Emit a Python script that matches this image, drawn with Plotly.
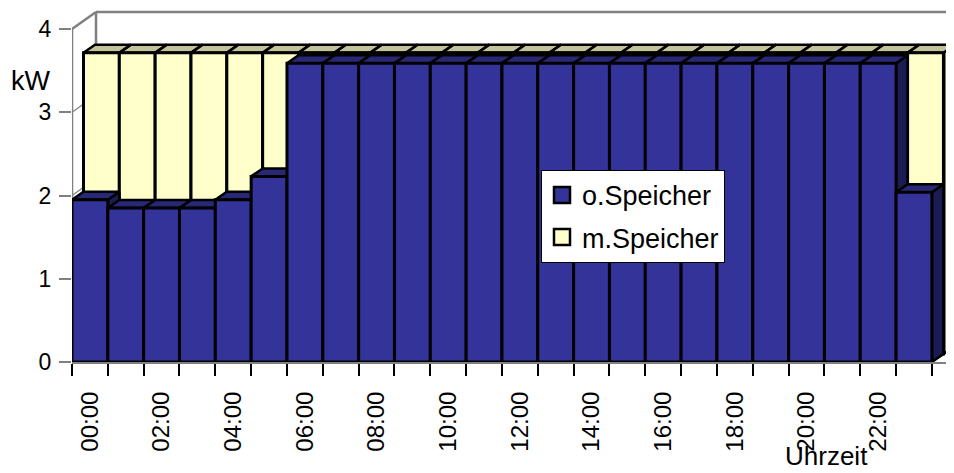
import plotly.graph_objects as go

# ---------------- data ----------------
categories = ["00:00", "01:00", "02:00", "03:00", "04:00", "05:00",
              "06:00", "07:00", "08:00", "09:00", "10:00", "11:00",
              "12:00", "13:00", "14:00", "15:00", "16:00", "17:00",
              "18:00", "19:00", "20:00", "21:00", "22:00", "23:00"]
o_speicher = [1.95, 1.85, 1.85, 1.85, 1.95, 2.23,
              3.59, 3.59, 3.59, 3.59, 3.59, 3.59,
              3.59, 3.59, 3.59, 3.59, 3.59, 3.59,
              3.59, 3.59, 3.59, 3.59, 3.59, 2.04]
m_speicher = [3.62, 3.62, 3.62, 3.62, 3.62, 3.62,
              3.62, 3.62, 3.62, 3.62, 3.62, 3.62,
              3.62, 3.62, 3.62, 3.62, 3.62, 3.62,
              3.62, 3.62, 3.62, 3.62, 3.62, 3.62]
series_names = ["o.Speicher", "m.Speicher"]
y_ticks = [0, 1, 2, 3, 4]
x_title = "Uhrzeit"
y_title = "kW"

# ---------------- geometry / style ----------------
PAGE = 8                      # default page margin of the html body
W, H = 962, 481
L_M = 72 - PAGE
PLOT_BOTTOM = 362.3 - PAGE    # figure pixel of y = 0
B_M = H - PLOT_BOTTOM
PX_X = 35.83   # pixels per category
PX_Y = 83.3    # pixels per kW
plot_w = W - L_M
plot_h = PLOT_BOTTOM
x_range = [-0.5, -0.5 + plot_w / PX_X]
y_range = [0, plot_h / PX_Y]

DX = 11.5 / PX_X   # depth of one series row
DY = 8.0 / PX_Y
WX = 24.0 / PX_X   # depth of the walls
WY = 17.0 / PX_Y

FONT = "Liberation Sans, Arial, sans-serif"
BLUE = (0x33, 0x33, 0x99)
YELLOW = (0xFF, 0xFF, 0xCC)
GRAY = "#808080"


def shade(rgb, f):
    return "rgb(%d,%d,%d)" % tuple(int(round(c * f)) for c in rgb)


def px_to_paper(px, py):
    return (px - PAGE - L_M) / plot_w, (plot_h - (py - PAGE)) / plot_h


def faces(values, sx, sy):
    tx, ty, sdx, sdy = [], [], [], []
    for i, v in enumerate(values):
        l, r = i - 0.5 + sx, i + 0.5 + sx
        b, t = sy, v + sy
        tx += [l, r, r + DX, l + DX, l, None]
        ty += [t, t, t + DY, t + DY, t, None]
        sdx += [r, r, r + DX, r + DX, r, None]
        sdy += [b, t, t + DY, b + DY, b, None]
    return tx, ty, sdx, sdy


idx = list(range(len(categories)))
fig = go.Figure()

# back row: m.Speicher
ytx, yty, ysx, ysy = faces(m_speicher, DX, DY)
fig.add_trace(go.Scatter(x=ysx, y=ysy, fill="toself", mode="lines",
                         fillcolor=shade(YELLOW, 0.5), line=dict(color="black", width=2.5),
                         hoverinfo="skip", showlegend=False, xaxis="x", yaxis="y"))
fig.add_trace(go.Scatter(x=ytx, y=yty, fill="toself", mode="lines",
                         fillcolor=shade(YELLOW, 0.76), line=dict(color="black", width=2.5),
                         hoverinfo="skip", showlegend=False, xaxis="x", yaxis="y"))
fig.add_trace(go.Bar(x=idx, y=m_speicher, base=DY, width=1, offset=-0.5 + DX,
                     marker=dict(color=shade(YELLOW, 1), line=dict(color="black", width=3)),
                     name=series_names[1], showlegend=False, xaxis="x2", yaxis="y2"))

# front row: o.Speicher
btx, bty, bsx, bsy = faces(o_speicher, 0, 0)
fig.add_trace(go.Scatter(x=bsx, y=bsy, fill="toself", mode="lines",
                         fillcolor=shade(BLUE, 0.55), line=dict(color="black", width=2.5),
                         hoverinfo="skip", showlegend=False, xaxis="x3", yaxis="y3"))
fig.add_trace(go.Scatter(x=btx, y=bty, fill="toself", mode="lines",
                         fillcolor=shade(BLUE, 0.78), line=dict(color="black", width=2.5),
                         hoverinfo="skip", showlegend=False, xaxis="x3", yaxis="y3"))
fig.add_trace(go.Bar(x=idx, y=o_speicher, width=1,
                     marker=dict(color=shade(BLUE, 1), line=dict(color="black", width=3)),
                     name=series_names[0], showlegend=False, xaxis="x4", yaxis="y4"))

# legend entries
for name, col, grp in [(series_names[0], BLUE, "a"), (series_names[1], YELLOW, "b")]:
    fig.add_trace(go.Scatter(x=[None], y=[None], mode="markers", name=name,
                             legendgroup=grp,
                             marker=dict(symbol="square", size=16, color=shade(col, 1),
                                         line=dict(color="black", width=2.5))))

# walls (gray frame lines)
shapes = []
x_left = -0.5
x_right = len(categories) - 0.5
top = y_ticks[-1]


def seg(x0, y0, x1, y1, w=2.5):
    shapes.append(dict(type="line", xref="x", yref="y", x0=x0, y0=y0, x1=x1, y1=y1,
                       line=dict(color=GRAY, width=w), layer="below"))


seg(x_left, 0, x_left, top, 2.5)
seg(x_left, top, x_left + WX, top + WY)
seg(x_left + WX, WY, x_left + WX, top + WY)
seg(x_left + WX, top + WY, x_right + WX + 1, top + WY)
seg(x_right, 0, x_right + WX, WY, 1.5)
for k in y_ticks[1:-1]:
    seg(x_left, k, x_left + WX, k + WY, 1.2)
    seg(x_left + WX, k + WY, x_right + WX, k + WY, 1.2)

hidden = dict(range=x_range, visible=False, fixedrange=True)
hidden_y = dict(range=y_range, visible=False, fixedrange=True)

lx, ly = px_to_paper(541, 170)
kx, ky = px_to_paper(31, 80.6)
ux, uy = px_to_paper(826, 473)

fig.update_layout(
    width=W, height=H,
    margin=dict(l=L_M, r=0, t=0, b=B_M, pad=0),
    paper_bgcolor="white", plot_bgcolor="white",
    barmode="overlay",
    font=dict(family=FONT, color="black"),
    shapes=shapes,
    xaxis=dict(range=x_range, tickmode="array", tickvals=idx[::2], ticktext=categories[::2],
               tickangle=-90, ticks="outside", ticklen=12, tickcolor="rgba(0,0,0,0)",
               ticklabelstandoff=6,
               tickfont=dict(size=24, family=FONT), showgrid=False, zeroline=False,
               showline=True, linecolor=GRAY, linewidth=2, layer="below traces",
               minor=dict(ticks="outside", ticklen=12, tickcolor="black", tickwidth=1.5,
                          tickmode="linear", tick0=-0.5, dtick=1, showgrid=False),
               fixedrange=True),
    yaxis=dict(range=y_range, tickmode="array", tickvals=y_ticks,
               ticks="outside", ticklen=12, tickcolor=GRAY, tickwidth=2,
               ticklabelstandoff=3,
               tickfont=dict(size=23, family=FONT), showgrid=False, zeroline=False,
               showline=False, layer="below traces", fixedrange=True),
    xaxis2=dict(overlaying="x", **hidden), yaxis2=dict(overlaying="y", **hidden_y),
    xaxis3=dict(overlaying="x", **hidden), yaxis3=dict(overlaying="y", **hidden_y),
    xaxis4=dict(overlaying="x", **hidden), yaxis4=dict(overlaying="y", **hidden_y),
    legend=dict(x=lx, y=ly, xanchor="left", yanchor="top",
                bgcolor="white", bordercolor="black", borderwidth=1,
                font=dict(size=27, family=FONT), tracegroupgap=4,
                traceorder="grouped", itemsizing="trace"),
    annotations=[
        dict(text=y_title, xref="paper", yref="paper", x=kx, y=ky,
             showarrow=False, xanchor="center", yanchor="middle",
             font=dict(size=27, family=FONT)),
        dict(text=x_title, xref="paper", yref="paper", x=ux, y=uy,
             showarrow=False, xanchor="center", yanchor="bottom",
             font=dict(size=26, family=FONT)),
    ],
)

fig.write_html("out.html")
